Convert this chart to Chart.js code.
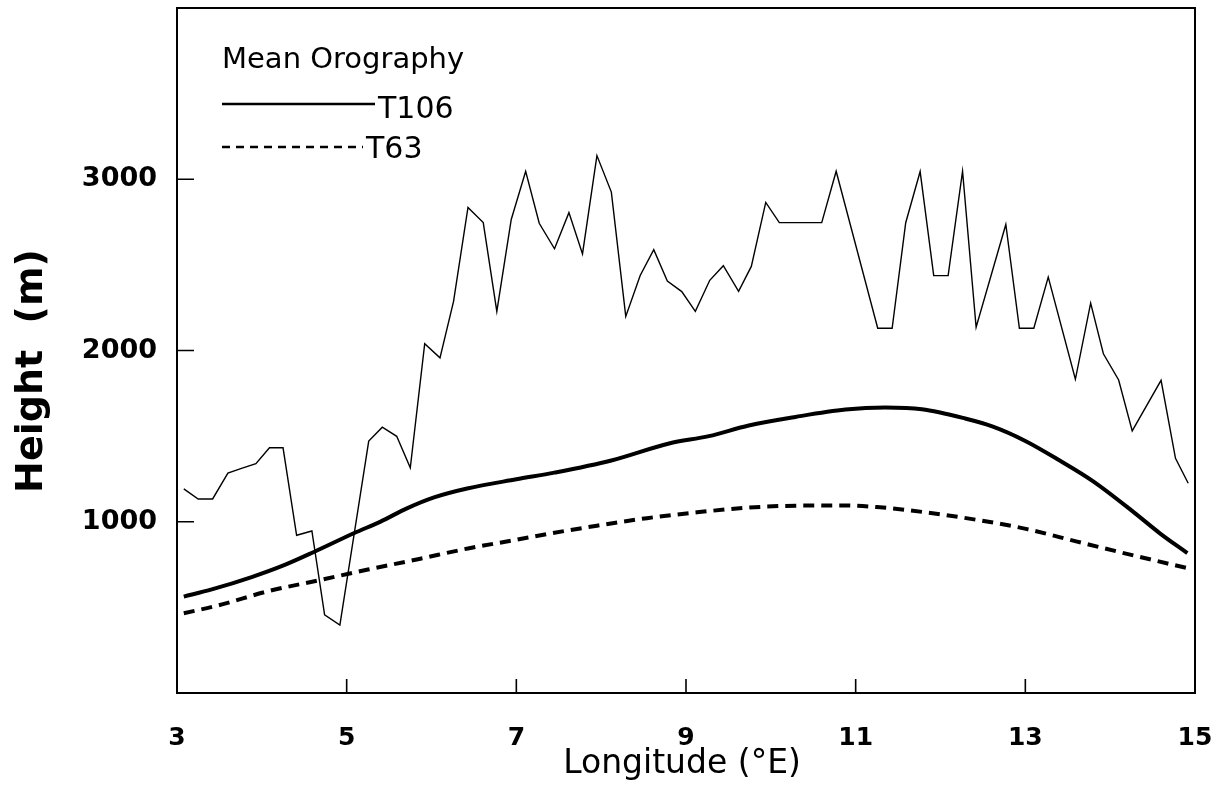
<!DOCTYPE html>
<html>
<head>
<meta charset="utf-8">
<script src="https://cdn.jsdelivr.net/npm/chart.js@4.4.1/dist/chart.umd.min.js"></script>
<style>
  html, body { margin: 0; padding: 0; background: #fff; }
  #wrap { width: 1219px; height: 805px; }
</style>
</head>
<body>
<div id="wrap"><canvas id="c" width="1219" height="805"></canvas></div>
<script>
// ---------------- data ----------------
const orographyLon = [3.08, 3.25, 3.42, 3.60, 3.76, 3.93, 4.09, 4.25, 4.41, 4.59,
  4.74, 4.92, 5.26, 5.42, 5.59, 5.75, 5.92, 6.10, 6.26, 6.43,
  6.61, 6.77, 6.94, 7.11, 7.27, 7.45, 7.62, 7.78, 7.95, 8.12,
  8.29, 8.46, 8.62, 8.78, 8.95, 9.11, 9.28, 9.44, 9.62, 9.77,
  9.94, 10.10, 10.60, 10.77, 11.26, 11.43, 11.59, 11.76, 11.92, 12.09,
  12.26, 12.42, 12.77, 12.93, 13.10, 13.27, 13.59, 13.77, 13.92, 14.10,
  14.26, 14.60, 14.77, 14.92];
const orographyHeight = [1192, 1133, 1133, 1284, 1312, 1339, 1432, 1432, 921, 946,
  457, 397, 1471, 1552, 1499, 1315, 2040, 1957, 2287, 2835,
  2747, 2228, 2765, 3046, 2743, 2594, 2805, 2564, 3138, 2925,
  2199, 2438, 2589, 2405, 2344, 2229, 2410, 2495, 2346, 2491,
  2865, 2747, 2747, 3047, 2130, 2130, 2746, 3045, 2437, 2437,
  3047, 2136, 2736, 2130, 2130, 2429, 1832, 2277, 1981, 1828,
  1531, 1826, 1370, 1225];

const t106Lon = [3.08, 3.41, 3.88, 4.27, 4.62, 5.09, 5.40, 5.71, 6.03, 6.42,
  7.00, 7.45, 8.12, 8.80, 9.27, 9.74, 10.29, 10.88, 11.35, 11.78,
  12.29, 12.61, 13.00, 13.40, 13.80, 14.28, 14.59, 14.91];
const t106Height = [563, 605, 677, 748, 825, 934, 1001, 1078, 1142, 1194,
  1248, 1287, 1358, 1457, 1500, 1562, 1612, 1655, 1667, 1657,
  1603, 1557, 1472, 1359, 1236, 1055, 931, 817];

const t63Lon = [3.08, 3.49, 4.08, 4.67, 5.25, 5.84, 6.43, 6.98, 7.37, 7.95,
  8.54, 9.13, 9.72, 10.31, 10.86, 11.25, 11.84, 12.43, 13.02, 13.61,
  14.21, 14.91];
const t63Height = [466, 512, 595, 658, 721, 781, 844, 893, 929, 977,
  1021, 1055, 1082, 1094, 1095, 1086, 1054, 1011, 957, 884,
  811, 729];

const xTickValues = [3, 5, 7, 9, 11, 13, 15];
const yTickValues = [1000, 2000, 3000];

const legendTitle = 'Mean Orography';
const xTitle = 'Longitude (\u00B0E)';
const yTitle = 'Height  (m)';

// ---------------- helpers ----------------
function pairs(xs, ys) { return xs.map((v, i) => ({ x: v, y: ys[i] })); }

const FONT = '"DejaVu Sans", "Liberation Sans", sans-serif';

// frame, inward tick marks, axis titles and legend
const decorPlugin = {
  id: 'decor',
  afterDatasetsDraw(chart) {
    const { ctx, chartArea: a, scales: { x, y } } = chart;
    ctx.save();
    ctx.strokeStyle = '#000';
    ctx.fillStyle = '#000';
    // frame
    ctx.lineWidth = 2;
    ctx.strokeRect(a.left, a.top, a.right - a.left, a.bottom - a.top);
    // inward ticks
    ctx.lineWidth = 1.6;
    ctx.beginPath();
    x.ticks.forEach(t => {
      if (t.value > x.min && t.value < x.max) {
        const px = x.getPixelForValue(t.value);
        ctx.moveTo(px, a.bottom);
        ctx.lineTo(px, a.bottom - 14);
      }
    });
    y.ticks.forEach(t => {
      const py = y.getPixelForValue(t.value);
      ctx.moveTo(a.left, py);
      ctx.lineTo(a.left + 17, py);
    });
    ctx.stroke();

    // x title
    ctx.font = '33px ' + FONT;
    ctx.textAlign = 'center';
    ctx.textBaseline = 'alphabetic';
    ctx.fillText(xTitle, (a.left + a.right) / 2 - 4, 773);

    // y title
    ctx.save();
    ctx.translate(42, 371);
    ctx.rotate(-Math.PI / 2);
    ctx.font = 'bold 38px ' + FONT;
    ctx.textAlign = 'center';
    ctx.textBaseline = 'alphabetic';
    ctx.fillText(yTitle, 0, 0);
    ctx.restore();

    // legend
    const lx = a.left + 45;
    ctx.font = '29px ' + FONT;
    ctx.textAlign = 'left';
    ctx.textBaseline = 'alphabetic';
    ctx.fillText(legendTitle, lx, 68);
    const entries = [
      { ds: chart.data.datasets[1], y: 104, len: 153, ty: 118 },
      { ds: chart.data.datasets[2], y: 147, len: 141, ty: 158 }
    ];
    entries.forEach(e => {
      ctx.save();
      ctx.lineWidth = 2.4;
      ctx.setLineDash(e.ds.borderDash ? [8, 6] : []);
      ctx.beginPath();
      ctx.moveTo(lx, e.y);
      ctx.lineTo(lx + e.len, e.y);
      ctx.stroke();
      ctx.restore();
      ctx.font = '30px ' + FONT;
      ctx.fillText(e.ds.label, lx + e.len + 3, e.ty);
    });
    ctx.restore();
  }
};

new Chart(document.getElementById('c'), {
  type: 'line',
  data: {
    datasets: [
      {
        label: 'Orography',
        data: pairs(orographyLon, orographyHeight),
        borderColor: '#000',
        borderWidth: 1.4,
        pointRadius: 0,
        tension: 0,
        fill: false
      },
      {
        label: 'T106',
        data: pairs(t106Lon, t106Height),
        borderColor: '#000',
        borderWidth: 4,
        pointRadius: 0,
        cubicInterpolationMode: 'monotone',
        fill: false
      },
      {
        label: 'T63',
        data: pairs(t63Lon, t63Height),
        borderColor: '#000',
        borderWidth: 4,
        borderDash: [11, 7],
        pointRadius: 0,
        cubicInterpolationMode: 'monotone',
        fill: false
      }
    ]
  },
  options: {
    responsive: false,
    animation: false,
    devicePixelRatio: 1,
    layout: { padding: { left: 0, right: 24, top: 8, bottom: 0 } },
    plugins: {
      legend: { display: false },
      tooltip: { enabled: false }
    },
    scales: {
      x: {
        type: 'linear',
        min: 3,
        max: 15,
        afterBuildTicks: s => { s.ticks = xTickValues.map(v => ({ value: v })); },
        afterFit: s => {
          s.height = 112;
          s.paddingLeft = 0; s.paddingRight = 0; s.paddingTop = 0; s.paddingBottom = 0;
        },
        grid: { display: false, drawTicks: false },
        border: { display: false },
        ticks: {
          color: '#000',
          padding: 30,
          font: { family: FONT, size: 25, weight: 'bold' },
          maxRotation: 0,
          callback: v => String(v)
        }
      },
      y: {
        type: 'linear',
        min: 0,
        max: 4000,
        afterBuildTicks: s => { s.ticks = yTickValues.map(v => ({ value: v })); },
        afterFit: s => {
          s.width = 177;
          s.paddingLeft = 0; s.paddingRight = 0; s.paddingTop = 0; s.paddingBottom = 0;
        },
        grid: { display: false, drawTicks: false },
        border: { display: false },
        ticks: {
          color: '#000',
          padding: 20,
          font: { family: FONT, size: 27, weight: 'bold' },
          callback: v => String(v)
        }
      }
    }
  },
  plugins: [decorPlugin]
});
</script>
</body>
</html>
